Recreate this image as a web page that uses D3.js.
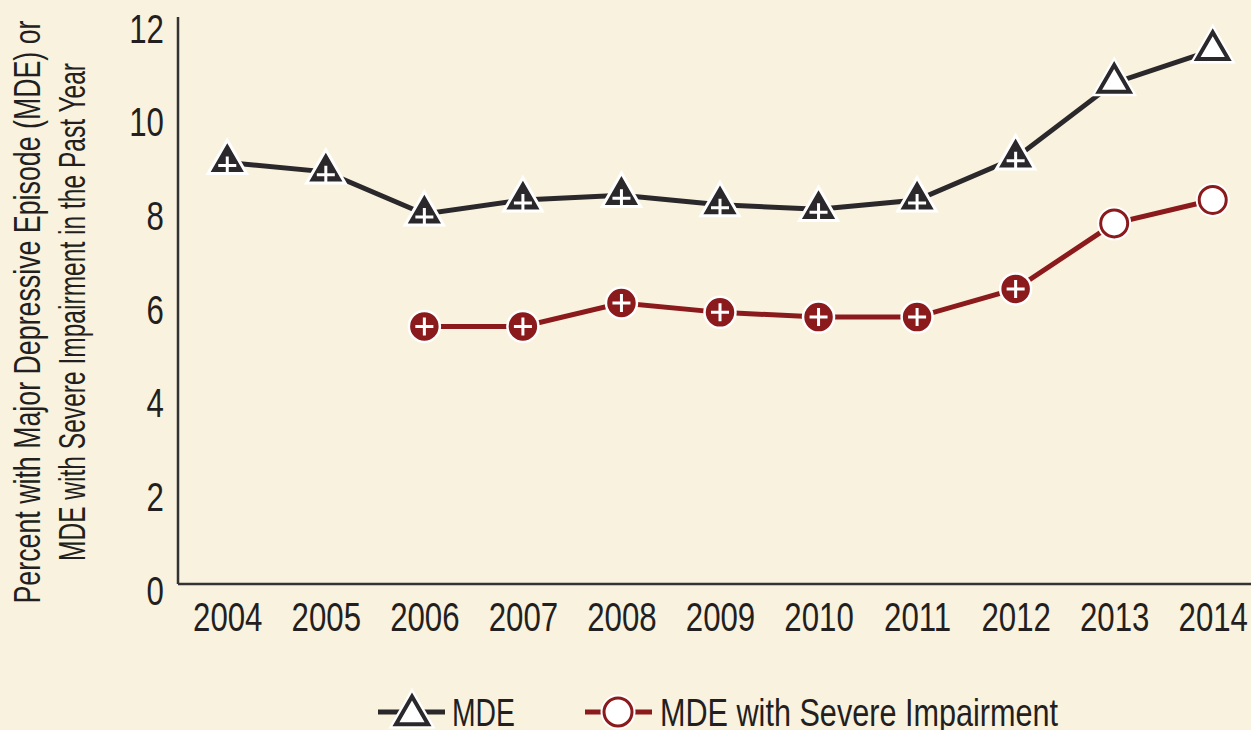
<!DOCTYPE html>
<html>
<head>
<meta charset="utf-8">
<script src="https://cdn.jsdelivr.net/npm/d3@7"></script>
<style>
  body { margin: 0; background: #f9f2df; }
  svg text { font-family: "Liberation Sans", Arial, sans-serif; fill: #231f20; }
</style>
</head>
<body>
<script>
var years = ["2004", "2005", "2006", "2007", "2008", "2009", "2010", "2011", "2012", "2013", "2014"];
var mde = [9.0, 8.8, 7.9, 8.2, 8.3, 8.1, 8.0, 8.2, 9.1, 10.7, 11.4];
var severe = [null, null, 5.5, 5.5, 6.0, 5.8, 5.7, 5.7, 6.3, 7.7, 8.2];
// last two years drawn with open markers
var openFrom = "2013";
var yTicks = [0, 2, 4, 6, 8, 10, 12];

var W = 1251, H = 730;
var margin = {top: 22, right: 0, bottom: 146, left: 178};
var dark = "#2b282b", red = "#8b1a1c";
var squeeze = "scale(0.78,1)"; // reference uses a condensed face

var svg = d3.select("body").append("svg")
    .attr("width", W)
    .attr("height", H)
    .style("background", "#f9f2df");

var x = d3.scalePoint().domain(years).range([margin.left, 1262]).padding(0.5);
var y = d3.scaleLinear().domain([0, 12]).range([H - margin.bottom, margin.top]);

// axes
var xAxis = svg.append("g")
    .attr("transform", "translate(0," + y(0) + ")")
    .call(d3.axisBottom(x).tickSize(0).tickPadding(19));
xAxis.select(".domain").attr("d", "M" + margin.left + ",0H" + W).attr("stroke", "#333").attr("stroke-width", 2.5);
xAxis.selectAll("text").attr("font-size", 40).attr("dy", "0.71em").attr("transform", squeeze);

var yAxis = svg.append("g")
    .attr("transform", "translate(" + margin.left + ",0)")
    .call(d3.axisLeft(y).tickValues(yTicks).tickSize(0).tickPadding(18));
yAxis.select(".domain").attr("d", "M0," + (margin.top - 5) + "V" + y(0)).attr("stroke", "#333").attr("stroke-width", 2.5);
yAxis.selectAll("text").attr("font-size", 40).attr("dy", "0.5em").attr("transform", squeeze);
svg.selectAll(".tick text").attr("fill", "#231f20").attr("font-family", null);

// y title
var title = svg.append("text")
    .attr("transform", "translate(0,312) rotate(-90)")
    .attr("text-anchor", "middle")
    .attr("font-size", 36);
title.append("tspan").attr("x", 0).attr("y", 40)
    .attr("textLength", 583).attr("lengthAdjust", "spacingAndGlyphs")
    .text("Percent with Major Depressive Episode (MDE) or");
title.append("tspan").attr("x", 0).attr("y", 85)
    .attr("textLength", 498).attr("lengthAdjust", "spacingAndGlyphs")
    .text("MDE with Severe Impairment in the Past Year");

var line = d3.line()
    .defined(function(d) { return d.v != null; })
    .x(function(d) { return x(d.year); })
    .y(function(d) { return y(d.v); });

function pts(vals) {
  return years.map(function(yr, i) { return {year: yr, v: vals[i], open: yr >= openFrom}; });
}

var mdePts = pts(mde), sevPts = pts(severe).filter(function(d) { return d.v != null; });

svg.append("path").datum(mdePts).attr("d", line)
    .attr("fill", "none").attr("stroke", dark).attr("stroke-width", 5);
svg.append("path").datum(sevPts).attr("d", line)
    .attr("fill", "none").attr("stroke", red).attr("stroke-width", 5);

var tri = d3.symbol().type(d3.symbolTriangle);

function plus(g, s) {
  g.append("path")
    .attr("d", "M" + (-s) + ",0H" + s + "M0," + (-s) + "V" + s)
    .attr("stroke", "#fff").attr("stroke-width", 3);
}

function drawTri(g, open, size) {
  if (open) {
    g.append("path").attr("d", tri.size(size)()).attr("fill", "#fff").attr("stroke", "#fff").attr("stroke-width", 8);
    g.append("path").attr("d", tri.size(size * 0.93)()).attr("fill", "#fff").attr("stroke", dark).attr("stroke-width", 4);
  } else {
    g.append("path").attr("d", tri.size(size)()).attr("fill", dark).attr("stroke", "#fff").attr("stroke-width", 3);
    plus(g.append("g").attr("transform", "translate(0,3)"), 9);
  }
}

function drawCirc(g, open, r) {
  if (open) {
    g.append("circle").attr("r", r).attr("fill", "#fff").attr("stroke", "#fff").attr("stroke-width", 3);
    g.append("circle").attr("r", r - 2).attr("fill", "#fff").attr("stroke", red).attr("stroke-width", 3);
  } else {
    g.append("circle").attr("r", r).attr("fill", red).attr("stroke", "#fff").attr("stroke-width", 2.5);
    plus(g, 9);
  }
}

svg.append("g").selectAll("g").data(mdePts).enter().append("g")
    .attr("transform", function(d) { return "translate(" + x(d.year) + "," + y(d.v) + ")"; })
    .each(function(d) { drawTri(d3.select(this), d.open, d.open ? 450 : 640); });

svg.append("g").selectAll("g").data(sevPts).enter().append("g")
    .attr("transform", function(d) { return "translate(" + x(d.year) + "," + y(d.v) + ")"; })
    .each(function(d) { drawCirc(d3.select(this), d.open, 15.5); });

// legend
var leg = svg.append("g").attr("transform", "translate(0,712)");
leg.append("line").attr("x1", 378).attr("x2", 445).attr("stroke", dark).attr("stroke-width", 5);
drawTri(leg.append("g").attr("transform", "translate(412,3)"), true, 480);
leg.append("text").attr("x", 452).attr("y", 0).attr("dy", "0.36em").attr("font-size", 39)
    .attr("textLength", 63).attr("lengthAdjust", "spacingAndGlyphs").text("MDE");
leg.append("line").attr("x1", 585).attr("x2", 652).attr("stroke", red).attr("stroke-width", 5);
drawCirc(leg.append("g").attr("transform", "translate(618,0)"), true, 16);
leg.append("text").attr("x", 660).attr("y", 0).attr("dy", "0.36em").attr("font-size", 39)
    .attr("textLength", 398).attr("lengthAdjust", "spacingAndGlyphs").text("MDE with Severe Impairment");
</script>
</body>
</html>
